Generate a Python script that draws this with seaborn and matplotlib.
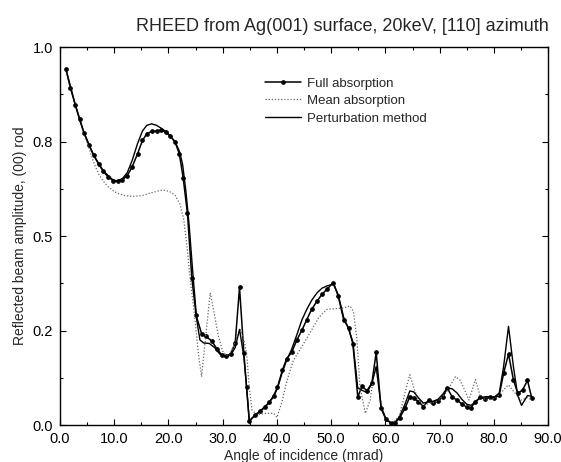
import matplotlib
matplotlib.use("Agg")
import matplotlib.pyplot as plt
from matplotlib.ticker import MultipleLocator, FormatStrFormatter
import seaborn as sns
import pandas as pd

# values (angle in mrad, amplitude)
full_x = [1.1, 1.9, 2.8, 3.6, 4.4, 5.3, 6.2, 7.1, 8.0, 8.9, 9.8, 10.6, 11.5, 12.4, 13.3,
          14.3, 15.2, 16.0, 16.9, 17.8, 18.6, 19.5, 20.3, 21.2, 22.0, 22.7, 23.5, 24.3,
          25.1, 26.1, 26.9, 28.0, 28.9, 29.8, 30.6, 31.5, 32.3, 33.1, 33.9, 34.4, 34.9,
          36.0, 36.9, 37.8, 38.6, 39.4, 40.1, 41.0, 41.8, 42.7, 43.7, 44.6, 45.5, 46.4,
          47.4, 48.3, 49.2, 50.4, 51.3, 52.3, 53.2, 54.0, 54.9, 55.7, 56.6, 57.5, 58.3,
          59.2, 60.1, 61.0, 61.8, 62.6, 63.6, 64.5, 65.2, 66.1, 67.0, 68.0, 68.8, 69.7,
          70.6, 71.4, 72.3, 73.2, 74.1, 75.0, 75.8, 76.6, 77.5, 78.4, 79.2, 80.1, 81.0,
          81.8, 82.7, 83.6, 84.4, 85.3, 86.2, 87.0]
full_y = [0.941, 0.893, 0.848, 0.809, 0.774, 0.742, 0.714, 0.691, 0.671, 0.656, 0.647,
          0.645, 0.649, 0.660, 0.683, 0.718, 0.753, 0.771, 0.777, 0.778, 0.780, 0.775,
          0.765, 0.749, 0.718, 0.655, 0.560, 0.390, 0.290, 0.242, 0.235, 0.222, 0.202,
          0.186, 0.182, 0.189, 0.217, 0.364, 0.190, 0.100, 0.011, 0.027, 0.037, 0.049,
          0.060, 0.078, 0.100, 0.145, 0.176, 0.192, 0.226, 0.251, 0.279, 0.306, 0.328,
          0.346, 0.359, 0.377, 0.341, 0.279, 0.257, 0.215, 0.075, 0.102, 0.091, 0.111,
          0.192, 0.044, 0.015, 0.006, 0.006, 0.018, 0.044, 0.075, 0.071, 0.062, 0.049,
          0.066, 0.059, 0.064, 0.074, 0.098, 0.075, 0.066, 0.056, 0.047, 0.046, 0.062,
          0.073, 0.069, 0.074, 0.071, 0.080, 0.137, 0.188, 0.120, 0.084, 0.093, 0.118,
          0.071]

mean_x = [1.1, 2.8, 4.4, 5.3, 6.2, 7.1, 8.0, 8.9, 10.0, 10.8, 12.0, 13.2, 15.1, 16.5,
          17.5, 18.5, 19.4, 20.3, 21.2, 22.1, 22.8, 23.4, 24.0, 24.9, 25.5, 26.1, 26.8,
          27.7, 28.3, 29.2, 30.1, 31.1, 32.3, 33.2, 33.9, 34.4, 34.9, 35.4, 36.3, 38.1,
          39.4, 40.0, 40.9, 41.8, 43.0, 44.6, 46.1, 47.7, 49.2, 50.7, 52.3, 53.5, 54.1,
          54.7, 55.3, 56.3, 57.2, 57.8, 58.3, 58.8, 59.4, 60.3, 61.5, 62.6, 63.6, 64.5,
          65.3, 66.1, 67.0, 68.5, 69.7, 70.6, 71.4, 72.9, 73.8, 74.6, 75.4, 76.6, 77.5,
          78.6, 80.0, 81.0, 82.1, 82.7, 83.6, 85.0, 86.2, 87.0]
mean_y = [0.941, 0.848, 0.774, 0.735, 0.695, 0.665, 0.645, 0.630, 0.618, 0.612, 0.607,
          0.605, 0.607, 0.613, 0.617, 0.621, 0.621, 0.617, 0.608, 0.585, 0.545, 0.474,
          0.386, 0.279, 0.191, 0.128, 0.226, 0.350, 0.306, 0.235, 0.191, 0.182, 0.217,
          0.253, 0.226, 0.190, 0.100, 0.040, 0.027, 0.031, 0.031, 0.020, 0.060, 0.115,
          0.170, 0.208, 0.244, 0.284, 0.306, 0.308, 0.310, 0.315, 0.300, 0.235, 0.102,
          0.031, 0.066, 0.128, 0.150, 0.100, 0.040, 0.012, 0.008, 0.025, 0.085, 0.133,
          0.095, 0.066, 0.053, 0.058, 0.064, 0.075, 0.090, 0.128, 0.118, 0.093, 0.066,
          0.120, 0.075, 0.066, 0.070, 0.080, 0.098, 0.106, 0.090, 0.066, 0.073, 0.066]

pert_x = [1.1, 2.8, 4.4, 6.2, 8.0, 9.8, 10.6, 11.5, 12.4, 13.3, 14.3, 15.2, 16.0, 16.9,
          17.8, 18.6, 19.5, 20.3, 21.2, 22.0, 22.6, 23.2, 23.8, 24.5, 25.2, 25.8, 26.5,
          27.5, 28.5, 29.5, 30.6, 31.5, 32.3, 33.1, 33.9, 34.4, 34.9, 36.0, 37.8, 39.4,
          40.1, 41.0, 41.8, 42.7, 43.7, 44.6, 45.5, 46.4, 47.4, 48.3, 49.2, 50.4, 51.3,
          52.3, 53.2, 54.0, 54.9, 55.7, 56.6, 57.5, 58.3, 59.2, 60.1, 61.0, 61.8, 62.6,
          63.6, 64.5, 65.2, 66.1, 67.0, 68.0, 68.8, 69.7, 70.6, 71.4, 72.3, 73.2, 74.1,
          75.0, 75.8, 76.6, 77.5, 78.4, 79.2, 80.1, 81.0, 81.8, 82.7, 83.6, 84.4, 85.1,
          86.2, 87.0]
pert_y = [0.941, 0.848, 0.774, 0.714, 0.672, 0.648, 0.646, 0.652, 0.668, 0.700, 0.745,
          0.778, 0.793, 0.797, 0.793, 0.786, 0.777, 0.765, 0.750, 0.725, 0.690, 0.620,
          0.530, 0.400, 0.280, 0.225, 0.217, 0.216, 0.205, 0.187, 0.180, 0.186, 0.205,
          0.253, 0.180, 0.100, 0.011, 0.025, 0.047, 0.075, 0.098, 0.140, 0.172, 0.200,
          0.240, 0.278, 0.306, 0.330, 0.350, 0.362, 0.368, 0.373, 0.345, 0.285, 0.255,
          0.220, 0.098, 0.092, 0.086, 0.110, 0.155, 0.050, 0.015, 0.006, 0.008, 0.022,
          0.055, 0.090, 0.088, 0.072, 0.058, 0.062, 0.063, 0.068, 0.082, 0.098, 0.096,
          0.085, 0.068, 0.055, 0.052, 0.062, 0.072, 0.075, 0.075, 0.074, 0.085, 0.155,
          0.261, 0.155, 0.078, 0.052, 0.078, 0.076]

labels = ["Full absorption", "Mean absorption", "Perturbation method"]

sns.set_theme(style="ticks")
plt.rcParams["font.family"] = ["Liberation Sans", "DejaVu Sans"]

fig = plt.figure(figsize=(5.61, 4.62), dpi=100)
ax = fig.add_axes([0.107, 0.080, 0.870, 0.818])

full = pd.DataFrame({"angle": full_x, "amp": full_y})
mean = pd.DataFrame({"angle": mean_x, "amp": mean_y})
pert = pd.DataFrame({"angle": pert_x, "amp": pert_y})

sns.lineplot(data=full, x="angle", y="amp", ax=ax, sort=False, estimator=None,
             color="black", lw=1.1, marker="o", ms=2.6, mec="black", label=labels[0])
sns.lineplot(data=mean, x="angle", y="amp", ax=ax, sort=False, estimator=None,
             color="#666666", lw=0.9, ls=(0, (1, 1.5)), label=labels[1])
sns.lineplot(data=pert, x="angle", y="amp", ax=ax, sort=False, estimator=None,
             color="black", lw=1.0, label=labels[2])

ax.set_xlim(0, 90)
ax.set_ylim(0, 1)
ax.xaxis.set_major_locator(MultipleLocator(10))
ax.xaxis.set_minor_locator(MultipleLocator(5))
ax.yaxis.set_major_locator(MultipleLocator(0.25))
ax.yaxis.set_minor_locator(MultipleLocator(0.125))
ax.xaxis.set_major_formatter(FormatStrFormatter("%.1f"))
ax.yaxis.set_major_formatter(FormatStrFormatter("%.1f"))
ax.tick_params(which="both", direction="in", top=True, right=True, width=0.8,
               labelsize=10.5, colors="black")
ax.tick_params(which="major", length=4, pad=5)
ax.tick_params(which="minor", length=2)
for s in ax.spines.values():
    s.set_linewidth(1.0)
    s.set_color("black")

ax.set_xlabel("Angle of incidence (mrad)", fontsize=10, labelpad=2)
ax.set_ylabel("Reflected beam amplitude, (00) rod", fontsize=10, labelpad=4)

ax.legend(loc="upper left", bbox_to_anchor=(0.42, 0.92), frameon=False,
          fontsize=9.5, handlelength=2.7, handletextpad=0.5, labelspacing=0.4,
          borderpad=0, borderaxespad=0)

fig.text(0.61, 0.933, "RHEED from Ag(001) surface, 20keV, [110] azimuth",
         ha="center", va="baseline", fontsize=13)

fig.savefig("out.png", dpi=100)
